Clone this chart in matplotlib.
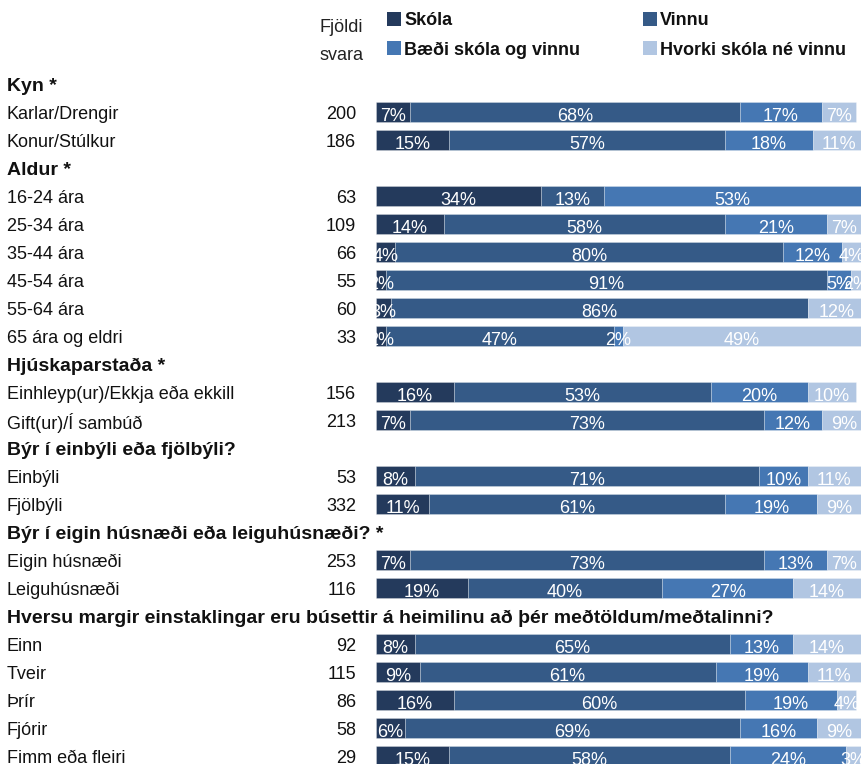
import matplotlib
matplotlib.use('Agg')
import matplotlib.pyplot as plt
from matplotlib import transforms, font_manager
from matplotlib.patches import Rectangle

names = {f.name for f in font_manager.fontManager.ttflist}
FONT = 'Liberation Sans Narrow' if 'Liberation Sans Narrow' in names else 'Liberation Sans'
plt.rcParams['font.family'] = [FONT, 'DejaVu Sans']

# ---- data ----
series = ['Skóla', 'Vinnu', 'Bæði skóla og vinnu', 'Hvorki skóla né vinnu']
colors = ['#243a5c', '#355a87', '#4577b3', '#b1c6e2']

groups = ['Kyn *', 'Aldur *', 'Hjúskaparstaða *', 'Býr í einbýli eða fjölbýli?',
          'Býr í eigin húsnæði eða leiguhúsnæði? *',
          'Hversu margir einstaklingar eru búsettir á heimilinu að þér meðtöldum/meðtalinni?']
group_sizes = [2, 6, 2, 2, 2, 5]

categories = ['Karlar/Drengir', 'Konur/Stúlkur',
              '16-24 ára', '25-34 ára', '35-44 ára', '45-54 ára', '55-64 ára', '65 ára og eldri',
              'Einhleyp(ur)/Ekkja eða ekkill', 'Gift(ur)/Í sambúð',
              'Einbýli', 'Fjölbýli',
              'Eigin húsnæði', 'Leiguhúsnæði',
              'Einn', 'Tveir', 'Þrír', 'Fjórir', 'Fimm eða fleiri']
n_svara = [200, 186, 63, 109, 66, 55, 60, 33, 156, 213, 53, 332, 253, 116, 92, 115, 86, 58, 29]

skola  = [7, 15, 34, 14, 4, 2, 3, 2, 16, 7, 8, 11, 7, 19, 8, 9, 16, 6, 15]
vinnu  = [68, 57, 13, 58, 80, 91, 86, 47, 53, 73, 71, 61, 73, 40, 65, 61, 60, 69, 58]
baedi  = [17, 18, 53, 21, 12, 5, 0, 2, 20, 12, 10, 19, 13, 27, 13, 19, 19, 16, 24]
hvorki = [7, 11, 0, 7, 4, 2, 12, 49, 10, 9, 11, 9, 7, 14, 14, 11, 4, 9, 3]

# ---- layout ----
W, H = 861, 764
fig = plt.figure(figsize=(W / 100, H / 100), dpi=100)
ax_left, ax_right = 376, 861
ax = fig.add_axes([ax_left / W, 0, (ax_right - ax_left) / W, 1])
row0_px, pitch = 84, 28
ax.set_ylim((H - row0_px) / pitch, -row0_px / pitch)
ax.set_xlim(0, 100)
ax.axis('off')

# row positions
header_pos, cat_pos = [], []
pos = 0
for g, s in zip(groups, group_sizes):
    header_pos.append(pos)
    pos += 1
    for _ in range(s):
        cat_pos.append(pos)
        pos += 1

data = [skola, vinnu, baedi, hvorki]
lefts = [0] * len(categories)
for vals, col in zip(data, colors):
    ax.barh(cat_pos, vals, left=lefts, height=0.72, color=col,
            edgecolor=(1, 1, 1, 0.3), linewidth=0.6)
    for y, l, v in zip(cat_pos, lefts, vals):
        if v > 0:
            ax.text(l + v / 2, y + 0.17, f'{v}%', ha='center', va='center',
                    color='white', fontsize=13, clip_on=True)
    lefts = [a + b for a, b in zip(lefts, vals)]

# left-hand text
dy = 0.1
trans = transforms.blended_transform_factory(fig.transFigure, ax.transData)
for g, y in zip(groups, header_pos):
    fig.text(7 / W, y + dy, g, transform=trans, ha='left', va='center',
             fontsize=14, fontweight='bold', color='#111111')
for c, n, y in zip(categories, n_svara, cat_pos):
    fig.text(7 / W, y + dy, c, transform=trans, ha='left', va='center',
             fontsize=13, color='#111111')
    fig.text(356 / W, y + dy, str(n), transform=trans, ha='right', va='center',
             fontsize=13, color='#111111')

# column header
fig.text(363 / W, 1 - 32 / H, 'Fjöldi', ha='right', va='baseline', fontsize=13, color='#222222')
fig.text(363 / W, 1 - 60 / H, 'svara', ha='right', va='baseline', fontsize=13, color='#222222')

# legend
leg_pos = [(387, 12, 25), (643, 12, 25), (387, 41, 55), (643, 41, 55)]
for (x, ytop, base), name, col in zip(leg_pos, series, colors):
    fig.patches.append(Rectangle((x / W, 1 - (ytop + 14) / H), 14 / W, 14 / H,
                                 transform=fig.transFigure, facecolor=col, edgecolor='none'))
    fig.text((x + 17) / W, 1 - base / H, name, ha='left', va='baseline',
             fontsize=13, fontweight='bold', color='#111111')

fig.savefig('out.png', dpi=100)
